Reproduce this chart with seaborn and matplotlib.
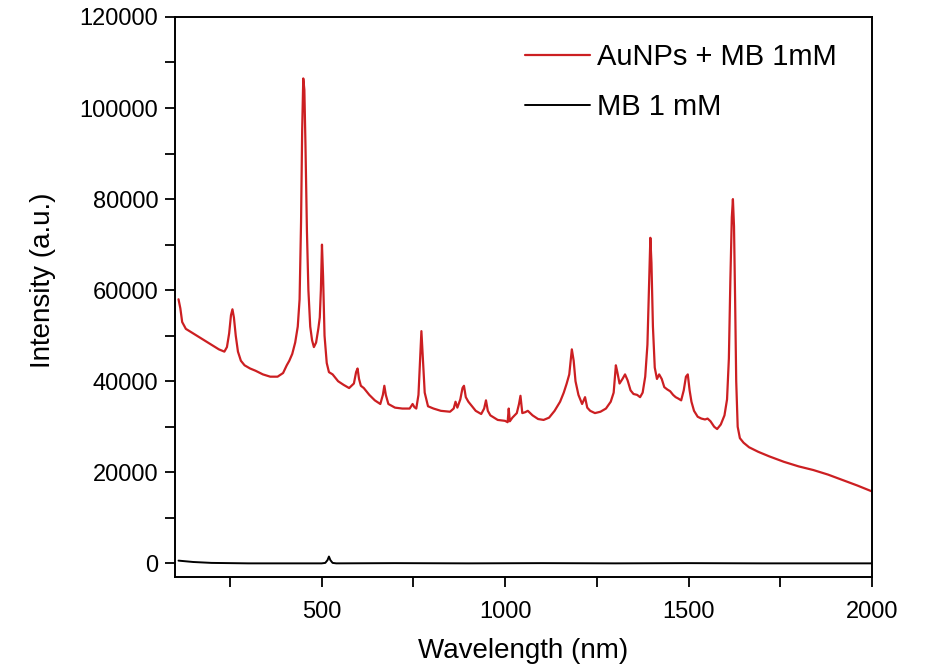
import matplotlib
matplotlib.use("Agg")
import matplotlib.pyplot as plt
from matplotlib.ticker import MultipleLocator
import pandas as pd
import seaborn as sns

# Raman-style spectrum (x in the axis units, y intensity)
red_x = [110, 115, 120, 130, 140, 150, 160, 180, 200, 220, 235, 242, 248, 253, 257, 261, 266, 272, 280, 290,
         305, 320, 340, 360, 380, 395, 405, 412, 420, 428, 435, 440, 444, 447, 450, 453, 456, 460, 464, 469,
         474, 479, 485, 491, 495, 498, 501, 504, 508, 514, 520, 530, 545, 560, 575, 588, 594, 598, 602, 607,
         615, 630, 645, 660, 667, 671, 675, 682, 700, 720, 740, 748, 753, 758, 764, 768, 772, 776, 781, 790,
         805, 825, 850, 860, 865, 870, 878, 884, 888, 893, 900, 920, 935, 943, 948, 953, 960, 980, 1000, 1007,
         1010, 1013, 1020, 1032, 1038, 1042, 1047, 1055, 1062, 1075, 1090, 1105, 1120, 1135, 1150, 1160, 1168, 1175, 1182, 1187,
         1192, 1200, 1210, 1218, 1224, 1232, 1245, 1260, 1275, 1288, 1296, 1302, 1306, 1312, 1320, 1327, 1334, 1342, 1350, 1360,
         1368, 1375, 1382, 1388, 1393, 1396, 1399, 1403, 1408, 1414, 1420, 1427, 1434, 1442, 1450, 1458, 1465, 1472, 1480, 1487,
         1493, 1498, 1503, 1508, 1515, 1525, 1535, 1545, 1552, 1560, 1570, 1578, 1588, 1598, 1605, 1610, 1614, 1618, 1621, 1624,
         1627, 1630, 1634, 1640, 1650, 1665, 1690, 1720, 1760, 1800, 1840, 1880, 1920, 1960, 2000]
red_y = [58000, 56000, 53000, 51500, 51000, 50500, 50000, 49000, 48000, 47000, 46500, 47500, 50500, 54500, 55800, 54000, 50000, 46500, 44500, 43500,
         42800, 42300, 41500, 41000, 41000, 41800, 43500, 44500, 46000, 48500, 52000, 58000, 75000, 95000, 106500, 104000, 92000, 73000, 60000, 52000,
         49000, 47500, 48500, 51500, 54000, 60000, 70000, 63000, 50000, 44000, 42000, 41500, 40000, 39200, 38500, 39500, 42000, 42800, 40500, 39000,
         38500, 37000, 35800, 35000, 37000, 39000, 37000, 35000, 34200, 34000, 34000, 35000, 34300, 34000, 37000, 44000, 51000, 45000, 37500, 34500,
         34000, 33500, 33300, 34000, 35500, 34200, 36000, 38500, 39000, 36500, 35500, 33500, 32800, 34000, 35800, 33500, 32500, 31500, 31300, 31000,
         34000, 31200, 32000, 33000, 35000, 36800, 33000, 33200, 33500, 32500, 31700, 31500, 32000, 33500, 35500, 37500, 39500, 41500, 47000, 44500,
         40000, 37000, 35000, 36500, 34200, 33500, 33000, 33300, 34000, 35500, 37500, 43500, 42000, 39500, 40500, 41500, 40200, 38000, 37200, 37000,
         36500, 37500, 41000, 48000, 63000, 71500, 66000, 52000, 43000, 40500, 41500, 40500, 38700, 38200, 37800, 37000, 36500, 36200, 35800, 38000,
         41000, 41500, 38000, 35500, 33500, 32200, 31800, 31600, 31800, 31200, 30000, 29500, 30500, 32500, 36000, 45000, 62000, 76000, 80000, 74000,
         58000, 40000, 30000, 27500, 26500, 25500, 24500, 23500, 22300, 21300, 20500, 19500, 18300, 17100, 15800]

black_x = [110, 150, 200, 300, 400, 500, 510, 516, 520, 524, 530, 540, 700, 900, 1100, 1300, 1500, 1700, 1900, 2000]
black_y = [600, 300, 100, 0, 0, 0, 100, 700, 1500, 700, 100, 0, 50, 0, 50, 0, 50, 0, 0, 0]

red_label = "AuNPs + MB 1mM"
black_label = "MB 1 mM"

red_df = pd.DataFrame({"x": red_x, "y": red_y})
black_df = pd.DataFrame({"x": black_x, "y": black_y})

sns.set_style("ticks")
plt.rcParams["font.family"] = ["Liberation Sans", "DejaVu Sans"]
plt.rcParams["text.color"] = "black"
plt.rcParams["axes.labelcolor"] = "black"

fig, ax = plt.subplots(figsize=(9.3, 6.68), dpi=100)
fig.subplots_adjust(left=0.188, right=0.9376, top=0.9746, bottom=0.1362)

sns.lineplot(data=red_df, x="x", y="y", ax=ax, color="#cc1f22", lw=1.6, label=red_label)
sns.lineplot(data=black_df, x="x", y="y", ax=ax, color="black", lw=1.4, label=black_label)

ax.set_xlim(100, 2000)
ax.set_ylim(-3000, 120000)
ax.xaxis.set_major_locator(MultipleLocator(500))
ax.xaxis.set_minor_locator(MultipleLocator(250))
ax.yaxis.set_major_locator(MultipleLocator(20000))
ax.yaxis.set_minor_locator(MultipleLocator(10000))
ax.tick_params(which="both", direction="out", length=7, width=1.3, labelsize=17,
               colors="black")
ax.tick_params(axis="x", pad=10)
ax.tick_params(axis="y", pad=5)
for s in ax.spines.values():
    s.set_linewidth(1.4)
    s.set_color("black")

ax.set_xlabel("Wavelength (nm)", fontsize=20, labelpad=11)
ax.set_ylabel("Intensity (a.u.)", fontsize=20)
ax.yaxis.set_label_coords(-0.17, 0.53)

leg = ax.legend(loc="upper right", frameon=False, fontsize=21, handlelength=2.2,
                handletextpad=0.25, bbox_to_anchor=(0.987, 1.0), labelspacing=0.75)

fig.savefig("out.png", dpi=100)
